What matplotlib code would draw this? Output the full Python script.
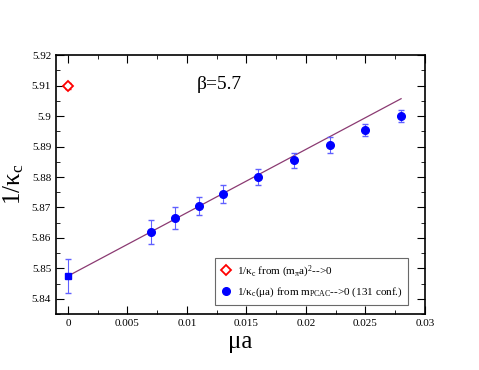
import matplotlib
matplotlib.use('Agg')
import matplotlib.pyplot as plt
from matplotlib.ticker import MultipleLocator
import numpy as np

plt.rcParams['font.family'] = ['Liberation Serif', 'DejaVu Serif']
plt.rcParams['mathtext.fontset'] = 'custom'
plt.rcParams['mathtext.rm'] = 'Liberation Serif'
plt.rcParams['mathtext.it'] = 'Liberation Serif'
plt.rcParams['mathtext.bf'] = 'Liberation Serif:bold'

# data
mu = [0.007, 0.009, 0.011, 0.013, 0.016, 0.019, 0.022, 0.025, 0.028]
kinv = [5.862, 5.8665, 5.8705, 5.8745, 5.880, 5.8855, 5.8905, 5.8955, 5.900]
kerr = [0.004, 0.0035, 0.003, 0.003, 0.0025, 0.0025, 0.0025, 0.002, 0.002]

mu0 = [0.0]
kinv0 = [5.8475]
kerr0 = [0.0055]

mpi_x = [0.0]
mpi_y = [5.910]
mpi_err = [0.001]

fit_x = [0.0, 0.028]
fit_y = [5.8475, 5.9057]

fig = plt.figure(figsize=(4.79, 3.70), dpi=100)
ax = fig.add_axes([0.117, 0.151, 0.77, 0.70])

ax.plot(fit_x, fit_y, color='#8b3a72', lw=0.9, zorder=1)

# error bars
ax.errorbar(mpi_x, mpi_y, yerr=mpi_err, fmt='none', ecolor='red',
            capsize=2, elinewidth=0.8, zorder=2)
ax.errorbar(mu, kinv, yerr=kerr, fmt='none', ecolor='#6060ff',
            capsize=2, elinewidth=0.8, zorder=2)
ax.errorbar(mu0, kinv0, yerr=kerr0, fmt='none', ecolor='#6060ff',
            capsize=2, elinewidth=0.8, zorder=2)

# markers
ax.plot(mpi_x, mpi_y, 'D', mfc='white', mec='red', ms=5, mew=1.3, ls='none',
        label='1/κ$_c$ from (m$_π$a)$^2$-->0', zorder=3)
ax.plot(mu, kinv, 'o', color='blue', ms=5.5, ls='none',
        label='1/κ$_c$(μa) from m$_{PCAC}$-->0 (131 conf.)', zorder=3)
ax.plot(mu0, kinv0, 's', color='blue', ms=5, ls='none', zorder=3)

ax.set_xlim(-0.001, 0.03)
ax.set_ylim(5.835, 5.92)
ax.xaxis.set_minor_locator(MultipleLocator(0.0025))
ax.yaxis.set_minor_locator(MultipleLocator(0.005))
ax.set_xticks([0, 0.005, 0.01, 0.015, 0.02, 0.025, 0.03])
ax.set_xticklabels(['0', '0.005', '0.01', '0.015', '0.02', '0.025', '0.03'])
yt = [5.84, 5.85, 5.86, 5.87, 5.88, 5.89, 5.9, 5.91, 5.92]
ax.set_yticks(yt)
ax.set_yticklabels(['5.84', '5.85', '5.86', '5.87', '5.88', '5.89', '5.9', '5.91', '5.92'])
ax.tick_params(which='both', direction='in', top=True, right=True, labelsize=8)
ax.tick_params(which='major', length=6)
ax.tick_params(which='minor', length=3)
for s in ax.spines.values():
    s.set_linewidth(1.2)

ax.set_xlabel('μa', fontsize=18, labelpad=2)
ax.set_ylabel('1/κ$_c$', fontsize=18, labelpad=4)
ax.text(0.0108, 5.909, 'β=5.7', fontsize=14)

leg = ax.legend(loc='lower right', bbox_to_anchor=(0.97, 0.015), fontsize=8,
                frameon=True, fancybox=False, edgecolor='#444444',
                handletextpad=0.5, borderpad=0.5, labelspacing=0.55,
                handlelength=1.0)
leg.get_frame().set_linewidth(0.8)

fig.savefig('out.png', dpi=100)
